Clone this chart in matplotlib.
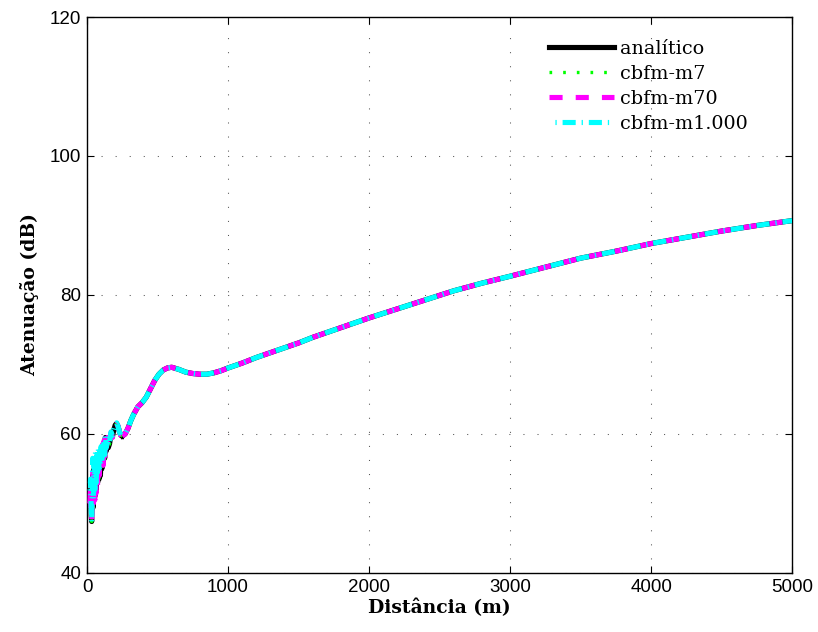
import numpy as np
import matplotlib
matplotlib.use('Agg')
import matplotlib.pyplot as plt

# near field (oscillating part), distance in m, attenuation in dB
d_near = [20, 25, 30, 33, 36, 40, 45, 50, 55, 60, 65, 70, 75, 80, 85, 90, 95,
          100, 105, 110, 115, 120, 125, 130, 135, 140, 145, 150, 160, 170,
          180, 190, 200, 210, 220, 230, 240]
ana_near = [50.5, 52.0, 48.2, 47.4, 50.0, 54.0, 49.5, 55.0, 51.0, 56.0, 52.0,
            55.5, 53.0, 57.0, 53.5, 56.5, 54.0, 57.5, 55.0, 58.0, 56.0, 58.5,
            56.5, 59.5, 57.5, 58.2, 59.0, 58.0, 58.6, 60.0, 59.6, 60.6, 61.3,
            61.5, 61.1, 60.3, 59.8]
m7_near = [50.6, 52.1, 48.1, 47.4, 50.2, 54.2, 49.4, 55.1, 51.1, 56.1, 52.2,
           55.4, 53.1, 57.1, 53.4, 56.6, 54.1, 57.4, 55.1, 58.1, 56.0, 58.6,
           56.4, 59.5, 57.6, 58.2, 59.0, 58.0, 58.6, 60.0, 59.6, 60.6, 61.3,
           61.5, 61.1, 60.3, 59.8]
m70_near = [50.0, 52.5, 48.0, 47.6, 50.5, 55.0, 50.0, 55.5, 50.5, 55.5, 51.5,
            56.0, 52.5, 56.5, 54.0, 57.0, 54.5, 56.5, 55.5, 58.5, 55.5, 59.0,
            56.0, 60.0, 57.0, 58.5, 59.5, 58.2, 58.8, 60.2, 59.5, 60.5, 61.3,
            61.5, 61.1, 60.3, 59.8]
m1000_near = [51.0, 53.5, 49.0, 47.3, 51.0, 56.5, 50.5, 56.0, 52.0, 57.5, 53.0,
              57.0, 54.5, 58.0, 55.0, 57.5, 55.5, 58.2, 56.0, 58.0, 56.5, 59.0,
              57.0, 59.8, 58.0, 58.5, 59.2, 58.4, 58.9, 60.3, 59.8, 60.7, 61.4,
              61.6, 61.1, 60.3, 59.8]

# far field (all series coincide)
d_far = [250, 270, 290, 310, 330, 360, 390, 420, 450, 480, 510, 540, 570, 600,
         650, 700, 750, 800, 850, 900, 950, 1000, 1100, 1200, 1300, 1400, 1500,
         1600, 1700, 1800, 1900, 2000, 2200, 2400, 2600, 2800, 3000, 3250, 3500,
         3750, 4000, 4250, 4500, 4750, 5000]
att_far = [59.7, 60.0, 60.8, 61.9, 62.8, 63.9, 64.5, 65.3, 66.5, 67.7, 68.6,
           69.2, 69.5, 69.6, 69.3, 68.9, 68.7, 68.6, 68.6, 68.8, 69.1, 69.5,
           70.2, 71.0, 71.7, 72.4, 73.1, 73.9, 74.6, 75.3, 76.0, 76.7, 78.0,
           79.3, 80.6, 81.7, 82.7, 84.0, 85.3, 86.3, 87.4, 88.3, 89.2, 90.0, 90.7]

labels = ['analítico', 'cbfm-m7', 'cbfm-m70', 'cbfm-m1.000']
near = [ana_near, m7_near, m70_near, m1000_near]

plt.rcParams['font.family'] = ['Liberation Sans', 'DejaVu Sans']

fig = plt.figure(figsize=(8.18, 6.32), dpi=100)
ax = fig.add_axes([0.1064, 0.0934, 0.8620, 0.8797])

lw = 3.7
# magenta dashes and cyan dash-dot share one period, cyan dash fills magenta gap
styles = [dict(color='black', lw=lw, linestyle='-'),
          dict(color='#00ff00', lw=2.4, linestyle=(0, (0.8, 3.3))),
          dict(color='#ff00ff', lw=lw, linestyle=(0, (2.55, 2.55))),
          dict(color='#00ffff', lw=lw, linestyle=(2.55, (2.55, 1.15, 0.25, 1.15)))]

for i in range(4):
    # near part joined to the first far point, far part drawn on its own so
    # the dash phase of all series lines up there
    ax.plot(d_near + d_far[:1], near[i] + att_far[:1], zorder=3 + i,
            dash_capstyle='butt', **styles[i])
    ax.plot(d_far, att_far, zorder=3 + i, dash_capstyle='butt',
            label=labels[i], **styles[i])

ax.set_xlim(0, 5000)
ax.set_ylim(40, 120)
ax.set_xticks([0, 1000, 2000, 3000, 4000, 5000])
ax.set_yticks([40, 60, 80, 100, 120])
ax.tick_params(direction='in', top=True, right=True, length=5, width=0.8,
               labelsize=13.5, pad=4)
ax.grid(True, color='#555555', linestyle=(0, (1, 12.5)), linewidth=0.75)
for s in ax.spines.values():
    s.set_linewidth(1.0)

ax.set_xlabel('Distância (m)', fontfamily='DejaVu Serif', fontweight='bold',
              fontsize=13.5, labelpad=2)
ax.set_ylabel('Atenuação (dB)', fontfamily='DejaVu Serif', fontweight='bold',
              fontsize=13.5, labelpad=8)

leg = ax.legend(loc='upper right', bbox_to_anchor=(0.962, 0.99), frameon=False,
                prop={'family': 'DejaVu Serif', 'size': 13.8},
                handlelength=3.4, labelspacing=0.36, handletextpad=0.33)

fig.savefig('out.png', dpi=100)
